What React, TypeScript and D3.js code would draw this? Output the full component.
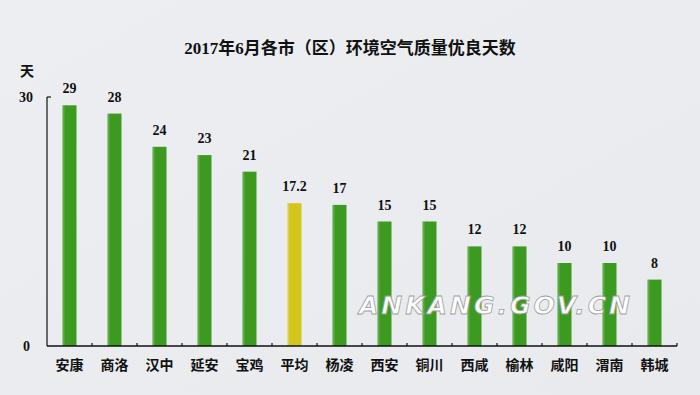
import React from "react";
import * as d3 from "d3";

const categories = ["安康", "商洛", "汉中", "延安", "宝鸡", "平均", "杨凌", "西安", "铜川", "西咸", "榆林", "咸阳", "渭南", "韩城"];
const values = [29, 28, 24, 23, 21, 17.2, 17, 15, 15, 12, 12, 10, 10, 8];
const yTicks = [0, 30];
const title = "2017年6月各市（区）环境空气质量优良天数";
const unit = "天";
const watermark = "ANKANG.GOV.CN";

const W = 700, H = 395;
const left = 47, right = 677, top = 97, bottom = 346;

export default function App() {
  const x = d3.scaleBand<string>().domain(categories).range([left, right]);
  const y = d3.scaleLinear().domain([0, 30]).range([bottom, top]);
  const bw = 14;
  const green = "#3d9a20";
  const yellow = "#d2c51c";
  const cjk = "'Noto Sans CJK SC', 'Noto Sans', sans-serif";
  const serif = "'Liberation Serif', 'Noto Sans CJK SC', serif";
  return (
    <svg width={W} height={H} style={{ position: "absolute", left: 0, top: 0 }}>
      <defs>
        <linearGradient id="bg" x1="0" y1="0" x2="1" y2="1">
          <stop offset="0" stopColor="#eceef1" />
          <stop offset="1" stopColor="#e8eaee" />
        </linearGradient>
      </defs>
      <rect x={0} y={0} width={W} height={H} fill="url(#bg)" />
      <text x={350} y={54} textAnchor="middle" fontFamily={serif} fontWeight="bold" fontSize={17} fill="#111">{title}</text>
      <text x={27} y={76} textAnchor="middle" fontFamily={cjk} fontWeight="bold" fontSize={14} fill="#111">{unit}</text>
      {yTicks.map((t) => (
        <text key={t} x={t === 0 ? 30 : 33} y={y(t) + 5} textAnchor="end" fontFamily={serif} fontWeight="bold" fontSize={14} fill="#111">{t}</text>
      ))}
      {categories.map((c, i) => {
        const cx = (x(c) as number) + x.bandwidth() / 2;
        const v = values[i];
        const col = c === "平均" ? yellow : green;
        return (
          <g key={c}>
            <rect x={cx - bw / 2} y={y(v)} width={bw} height={bottom - y(v)} fill={col} />
            <rect x={cx - bw / 2} y={y(v)} width={2} height={bottom - y(v)} fill="#ffffff" opacity={0.18} />
            <text x={cx} y={y(v) - 12} textAnchor="middle" fontFamily={serif} fontWeight="bold" fontSize={14} fill="#111">{v}</text>
            <text x={cx} y={370} textAnchor="middle" fontFamily={cjk} fontWeight="bold" fontSize={14} fill="#111">{c}</text>
          </g>
        );
      })}
      {categories.slice(1).map((c) => (
        <line key={"t" + c} x1={x(c) as number} x2={x(c) as number} y1={bottom} y2={bottom - 3} stroke="#111" strokeWidth={1.2} />
      ))}
      <line x1={right} x2={right} y1={bottom} y2={bottom - 3} stroke="#111" strokeWidth={1.2} />
      <line x1={left} x2={left} y1={top} y2={bottom} stroke="#111" strokeWidth={1.2} />
      <line x1={left} x2={left + 4} y1={top} y2={top} stroke="#111" strokeWidth={1.2} />
      <line x1={left} x2={right} y1={bottom} y2={bottom} stroke="#111" strokeWidth={1.5} />
      <text x={496} y={314} textAnchor="middle" fontFamily="'DejaVu Sans', sans-serif" fontStyle="italic" fontWeight="bold" fontSize={25} letterSpacing={3} fill="#ffffff" stroke="#9a9a9a" strokeWidth={0.8} opacity={0.95}>{watermark}</text>
    </svg>
  );
}
